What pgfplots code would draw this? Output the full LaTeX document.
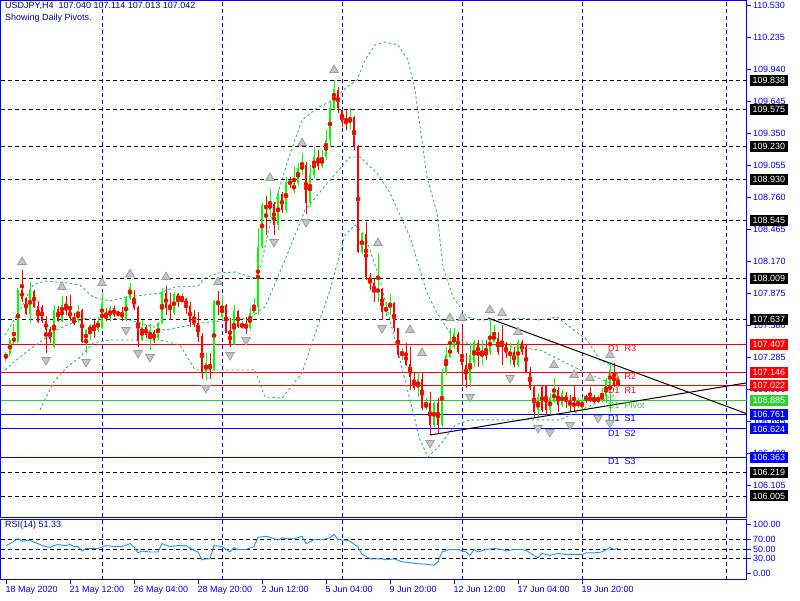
\documentclass[border=0pt]{standalone}
\usepackage{pgfplots}
\pgfplotsset{compat=1.18}
\usepackage{pgfplotstable}
\usepackage{fontspec}
\setmainfont{Liberation Sans}
\definecolor{mtgreen}{RGB}{0,255,0}
\definecolor{mtred}{RGB}{255,0,0}
\definecolor{mtblue}{RGB}{0,0,255}
\definecolor{mtnavy}{RGB}{0,0,128}
\definecolor{bandgreen}{RGB}{60,179,113}
\definecolor{rsiblue}{RGB}{30,144,255}
\definecolor{pivgreen}{RGB}{50,205,50}
\newcommand{\tf}{\fontsize{9}{10}\selectfont}

\pgfplotstableread{
i o h l c
0 107.279 107.335 107.251 107.316
1 107.316 107.463 107.298 107.445
2 107.426 107.592 107.408 107.472
3 107.426 107.925 107.417 107.906
4 107.906 108.091 107.795 107.823
5 107.832 107.841 107.675 107.685
6 107.685 107.980 107.601 107.906
7 107.897 107.906 107.740 107.749
8 107.759 107.805 107.601 107.610
9 107.749 107.768 107.601 107.620
10 107.620 107.666 107.325 107.537
11 107.546 107.565 107.417 107.454
12 107.380 107.768 107.371 107.722
13 107.731 107.759 107.610 107.620
14 107.620 107.851 107.610 107.768
15 107.768 107.851 107.675 107.712
16 107.722 107.860 107.620 107.648
17 107.648 107.694 107.583 107.592
18 107.629 107.768 107.610 107.712
19 107.722 107.731 107.417 107.426
20 107.426 107.546 107.325 107.537
21 107.519 107.592 107.445 107.583
22 107.583 107.629 107.463 107.555
23 107.537 107.657 107.519 107.620
24 107.555 107.888 107.546 107.786
25 107.675 107.740 107.620 107.648
26 107.657 107.759 107.620 107.740
27 107.740 107.759 107.657 107.675
28 107.675 107.722 107.657 107.703
29 107.703 107.749 107.620 107.648
30 107.629 107.851 107.620 107.832
31 107.832 107.971 107.814 107.934
32 107.841 107.906 107.722 107.740
33 107.749 107.759 107.380 107.435
34 107.445 107.629 107.435 107.565
35 107.565 107.583 107.463 107.491
36 107.463 107.592 107.353 107.537
37 107.519 107.537 107.417 107.445
38 107.463 107.610 107.445 107.601
39 107.601 107.925 107.592 107.888
40 107.879 107.943 107.675 107.740
41 107.749 107.879 107.629 107.731
42 107.694 107.888 107.675 107.869
43 107.869 107.879 107.749 107.805
44 107.805 107.879 107.786 107.823
45 107.823 107.832 107.685 107.759
46 107.759 107.795 107.565 107.610
47 107.620 107.722 107.565 107.610
48 107.601 107.703 107.426 107.472
49 107.482 107.509 107.085 107.140
50 107.149 107.325 107.076 107.232
51 107.223 107.325 107.085 107.168
52 107.168 107.814 107.159 107.805
53 107.805 107.897 107.675 107.777
54 107.657 107.860 107.629 107.768
55 107.768 107.777 107.509 107.509
56 107.528 107.648 107.380 107.399
57 107.408 107.768 107.399 107.712
58 107.712 107.722 107.555 107.565
59 107.565 107.620 107.546 107.592
60 107.583 107.657 107.500 107.555
61 107.555 107.749 107.546 107.694
62 107.694 107.832 107.675 107.768
63 107.749 108.479 107.675 108.303
64 108.303 108.709 108.294 108.691
65 108.691 108.774 108.414 108.654
66 108.645 108.839 108.580 108.709
67 108.700 108.718 108.414 108.506
68 108.506 108.829 108.460 108.792
69 108.792 108.811 108.617 108.645
70 108.645 108.949 108.617 108.903
71 108.912 108.949 108.848 108.885
72 108.820 109.042 108.802 108.894
73 108.894 109.079 108.876 109.032
74 109.014 109.171 108.968 109.060
75 109.060 109.088 108.608 108.709
76 108.709 109.060 108.672 108.968
77 108.968 109.226 108.940 109.134
78 109.134 109.199 109.014 109.051
79 109.051 109.199 109.032 109.134
80 109.134 109.383 109.106 109.291
81 109.291 109.660 109.226 109.586
82 109.586 109.845 109.568 109.762
83 109.752 109.780 109.540 109.586
84 109.568 109.577 109.411 109.457
85 109.466 109.568 109.383 109.448
86 109.448 109.586 109.383 109.494
87 109.503 109.512 109.199 109.226
88 109.236 109.245 108.248 108.257
89 108.257 108.442 108.239 108.432
90 108.423 108.534 107.999 108.026
91 108.026 108.063 107.906 107.971
92 107.971 108.008 107.795 107.879
93 107.879 108.248 107.795 107.925
94 107.916 107.925 107.629 107.703
95 107.703 107.795 107.666 107.749
96 107.740 107.869 107.675 107.786
97 107.786 107.795 107.519 107.555
98 107.555 107.555 107.279 107.306
99 107.306 107.371 107.260 107.343
100 107.334 107.417 107.205 107.214
101 107.223 107.380 106.983 107.103
102 107.085 107.140 106.983 107.002
103 107.002 107.140 106.919 107.085
104 107.085 107.140 106.799 106.817
105 106.817 106.909 106.799 106.863
106 106.863 106.965 106.568 106.660
107 106.660 106.872 106.642 106.863
108 106.863 106.909 106.577 106.660
109 106.660 107.177 106.642 107.140
110 107.140 107.380 107.122 107.306
111 107.288 107.555 107.279 107.389
112 107.380 107.555 107.362 107.509
113 107.500 107.519 107.316 107.334
114 107.306 107.565 107.029 107.214
115 107.214 107.325 107.002 107.076
116 107.076 107.417 107.011 107.306
117 107.242 107.445 107.195 107.426
118 107.417 107.445 107.195 107.306
119 107.288 107.445 107.214 107.334
120 107.334 107.445 107.260 107.306
121 107.325 107.629 107.306 107.491
122 107.426 107.583 107.417 107.509
123 107.463 107.519 107.306 107.334
124 107.445 107.583 107.214 107.399
125 107.399 107.426 107.279 107.325
126 107.306 107.417 107.214 107.334
127 107.334 107.380 107.195 107.214
128 107.214 107.445 107.195 107.426
129 107.426 107.445 107.306 107.334
130 107.380 107.399 107.140 107.149
131 107.149 107.195 106.983 107.002
132 107.011 107.029 106.734 106.780
133 106.799 106.956 106.725 106.919
134 107.011 107.029 106.780 106.799
135 107.020 107.029 106.752 106.799
136 106.799 106.956 106.752 106.919
137 106.872 107.094 106.863 106.983
138 106.983 107.011 106.780 106.845
139 106.845 106.983 106.826 106.956
140 106.937 106.965 106.817 106.872
141 106.891 106.937 106.780 106.836
142 106.872 107.020 106.780 106.826
143 106.836 106.909 106.817 106.872
144 106.817 106.919 106.771 106.891
145 106.919 106.937 106.863 106.900
146 106.909 107.011 106.872 106.891
147 106.909 106.937 106.863 106.872
148 106.872 106.937 106.863 106.919
149 106.891 107.002 106.872 106.937
150 106.919 107.094 106.863 107.076
151 107.029 107.232 106.780 107.168
152 107.140 107.232 107.011 107.029
153 107.040 107.114 107.013 107.042
}\candles

\begin{document}
\begin{tikzpicture}
\useasboundingbox (0,0) rectangle (800pt,-600pt);
% ---------------- main price panel ----------------
\begin{axis}[
  at={(1pt,0pt)}, anchor=north west, scale only axis,
  width=745.5pt, height=517pt,
  xmin=-1.25, xmax=185.125, ymin=105.811, ymax=110.583,
  axis line style={mtblue, line width=1pt},
  xtick={24,54,84,114,144,180}, xticklabels={},
  xmajorgrids, x grid style={mtblue, dash pattern=on 4pt off 3pt, line width=0.8pt},
  xtick style={draw=none},
  ytick={110.530,110.235,109.940,109.645,109.350,109.055,108.760,108.465,108.170,107.875,107.580,107.285,106.990,106.695,106.400,106.105},
  ytick pos=right, yticklabel pos=right, scaled y ticks=false,
  tick align=outside, major tick length=4pt,
  ytick style={mtblue, line width=0.8pt},
  y tick label style={text=mtblue, font=\tf, xshift=-1pt,
    /pgf/number format/.cd, fixed, fixed zerofill, precision=3, assume math mode=true},
]
% dashed price levels
\pgfplotsinvokeforeach{109.838,109.575,109.230,108.930,108.545,108.009,107.637,106.219,106.005}{
  \addplot[black, line width=0.9pt, dash pattern=on 4pt off 3pt, forget plot] coordinates {(-1.25,#1) (185.125,#1)};
}
% daily pivots
\addplot[mtred, line width=1pt] coordinates {(-1.25,107.407) (185.125,107.407)};
\addplot[mtred, line width=1pt] coordinates {(-1.25,107.146) (185.125,107.146)};
\addplot[mtred, line width=1pt] coordinates {(-1.25,107.022) (185.125,107.022)};
\addplot[pivgreen, line width=1pt] coordinates {(-1.25,106.885) (185.125,106.885)};
\addplot[mtblue, line width=1pt] coordinates {(-1.25,106.761) (185.125,106.761)};
\addplot[mtblue, line width=1pt] coordinates {(-1.25,106.624) (185.125,106.624)};
\addplot[mtblue, line width=1pt] coordinates {(-1.25,106.363) (185.125,106.363)};
% Bollinger bands
\addplot[bandgreen, line width=0.9pt, dash pattern=on 2.5pt off 2.5pt] coordinates {
(-0.25,107.491) (3.5,107.722) (6.75,107.952) (9.75,107.989) (15.25,107.971) (18.5,107.952) (21.75,107.841) (26,107.805) (30.25,107.841) (38.5,107.878) (42.25,107.934) (48,107.943) (49.75,108.017) (53,108.063) (57.25,108.072) (62.25,108.017) (63.5,108.091) (65.5,108.432) (68,108.802) (70.5,109.106) (74,109.475) (77.75,109.586) (81.75,109.660) (85.25,109.780) (87.75,109.845) (89.75,110.029) (92.25,110.168) (94.75,110.195) (98,110.168) (100.5,110.029) (102.25,109.752) (105.25,108.949) (107.75,108.617) (109.25,108.119) (111.75,107.841) (115.25,107.657) (118.5,107.629) (123.5,107.629) (128.5,107.648) (133.5,107.629) (137.75,107.657) (141,107.565) (145.25,107.445) (148.5,107.260) (152.25,107.195)};
\addplot[bandgreen, line width=0.9pt, dash pattern=on 2.5pt off 2.5pt] coordinates {
(-0.25,107.168) (3.5,107.288) (6.75,107.380) (9.25,107.445) (12.75,107.537) (15.25,107.583) (20.25,107.648) (26,107.648) (31,107.629) (39.75,107.537) (48.5,107.600) (61,107.648) (64.75,107.749) (69.75,108.183) (74.75,108.645) (81,108.922) (86,109.134) (88.5,109.134) (92.75,108.986) (96,108.802) (101,108.395) (105.25,107.878) (107.75,107.694) (111,107.509) (116,107.399) (123.5,107.399) (133.5,107.353) (143.5,107.168) (152.25,107.029)};
\addplot[bandgreen, line width=0.9pt, dash pattern=on 2.5pt off 2.5pt] coordinates {
(8.5,106.799) (11.75,107.048) (15.25,107.195) (18.5,107.288) (21.75,107.417) (26,107.445) (38.5,107.445) (43.5,107.399) (47.25,107.168) (62.25,107.168) (64.75,106.919) (69,106.909) (74,107.140) (76.5,107.417) (81,107.906) (84.75,108.414) (87.25,108.506) (89.75,108.414) (93.5,107.999) (97.25,107.445) (101,106.891) (103.5,106.522) (105.5,106.365) (108.5,106.476) (112.25,106.660) (116,106.707) (123.5,106.707) (131,106.707) (138.5,106.707) (145.25,106.826) (152.25,106.937)};
% candles: wicks and bodies, green (up) and red (down)
\addplot[forget plot, only marks, mark=none, mtgreen, error bars/.cd, y dir=both, y explicit, error mark=none,
  error bar style={draw=mtgreen, line width=1pt}]
  table[x=i, y expr={(\thisrow{h}+\thisrow{l})/2}, y error expr={\thisrow{c}>=\thisrow{o} ? (\thisrow{h}-\thisrow{l})/2 : 0}] {\candles};
\addplot[forget plot, only marks, mark=none, mtred, error bars/.cd, y dir=both, y explicit, error mark=none,
  error bar style={draw=mtred, line width=1pt}]
  table[x=i, y expr={(\thisrow{h}+\thisrow{l})/2}, y error expr={\thisrow{c}<\thisrow{o} ? (\thisrow{h}-\thisrow{l})/2 : 0}] {\candles};
\addplot[forget plot, only marks, mark=none, mtgreen, error bars/.cd, y dir=both, y explicit, error mark=none,
  error bar style={draw=mtgreen, line width=2.8pt}]
  table[x=i, y expr={(\thisrow{o}+\thisrow{c})/2}, y error expr={\thisrow{c}>=\thisrow{o} ? (\thisrow{c}-\thisrow{o})/2 : 0}] {\candles};
\addplot[forget plot, only marks, mark=none, mtred, error bars/.cd, y dir=both, y explicit, error mark=none,
  error bar style={draw=mtred, line width=2.8pt}]
  table[x=i, y expr={(\thisrow{o}+\thisrow{c})/2}, y error expr={\thisrow{c}<\thisrow{o} ? (\thisrow{o}-\thisrow{c})/2 : 0}] {\candles};
% trend lines
\addplot[black, line width=1pt] coordinates {(120.5,107.648) (185.125,106.765)};
\addplot[black, line width=1pt] coordinates {(106,106.568) (185.125,107.049)};
% fractals
\addplot[only marks, mark=triangle*, mark size=5pt, mark options={fill=gray!45, draw=gray!80, line width=0.7pt}] coordinates {
(4,108.165) (14,107.934) (24,107.970) (31,108.050) (40,108.026) (53,107.980) (66,108.940) (74,109.263) (82,109.937) (93,108.340) (101,107.537) (104,107.325) (111,107.648) (114,107.648) (121,107.722) (124,107.694) (128,107.519) (137,107.214) (142,107.122) (146,107.094) (151,107.306)};
\addplot[only marks, mark=triangle*, mark size=5pt, mark options={rotate=180, fill=gray!45, draw=gray!80, line width=0.7pt}] coordinates {
(10,107.260) (20,107.242) (30,107.537) (33,107.325) (36,107.288) (50,107.002) (56,107.306) (60,107.445) (67,108.349) (75,108.534) (94,107.555) (106,106.494) (116,106.919) (126,107.094) (133,106.633) (136,106.596) (141,106.660) (148,106.725) (151,106.679)};
% pivot labels
\begin{scope}[every node/.style={anchor=north west, inner sep=1pt, font=\tf}]
\node[text=mtred] at (axis cs:150.25,107.407) {D1\ \ R3};
\node[text=mtred] at (axis cs:150.25,107.146) {D1\ \ R2};
\node[text=mtred] at (axis cs:150.25,107.022) {D1\ \ R1};
\node[text=pivgreen] at (axis cs:150.25,106.885) {D1\ \ Pivot};
\node[text=mtblue] at (axis cs:150.25,106.761) {D1\ \ S1};
\node[text=mtblue] at (axis cs:150.25,106.624) {D1\ \ S2};
\node[text=mtblue] at (axis cs:150.25,106.363) {D1\ \ S3};
\end{scope}
\end{axis}
% ---------------- overlay: price boxes and header ----------------
\begin{axis}[
  at={(1pt,0pt)}, anchor=north west, scale only axis,
  width=745.5pt, height=517pt,
  xmin=-1.25, xmax=185.125, ymin=105.811, ymax=110.583,
  hide axis, clip=false,
]
\begin{scope}[every node/.style={anchor=west, xshift=3.5pt, inner xsep=2.5pt, inner ysep=0pt, minimum height=11pt, font=\tf, text=white}]
\node[fill=black] at (axis cs:185.125,109.838) {109.838};
\node[fill=black] at (axis cs:185.125,109.575) {109.575};
\node[fill=black] at (axis cs:185.125,109.230) {109.230};
\node[fill=black] at (axis cs:185.125,108.930) {108.930};
\node[fill=black] at (axis cs:185.125,108.545) {108.545};
\node[fill=black] at (axis cs:185.125,108.009) {108.009};
\node[fill=black] at (axis cs:185.125,107.637) {107.637};
\node[fill=mtred] at (axis cs:185.125,107.407) {107.407};
\node[fill=mtred] at (axis cs:185.125,107.146) {107.146};
\node[fill=mtred] at (axis cs:185.125,107.022) {107.022};
\node[fill=pivgreen] at (axis cs:185.125,106.885) {106.885};
\node[fill=mtblue] at (axis cs:185.125,106.761) {106.761};
\node[fill=mtblue] at (axis cs:185.125,106.624) {106.624};
\node[fill=mtblue] at (axis cs:185.125,106.363) {106.363};
\node[fill=black] at (axis cs:185.125,106.219) {106.219};
\node[fill=black] at (axis cs:185.125,106.005) {106.005};
\end{scope}
\end{axis}
\node[anchor=north west, inner sep=0pt, text=mtnavy, font=\tf] at (5pt,-2pt) {USDJPY,H4\ \ 107.040 107.114 107.013 107.042};
\node[anchor=north west, inner sep=0pt, text=mtnavy, font=\tf] at (5pt,-14pt) {Showing Daily Pivots.};
% ---------------- RSI panel ----------------
\begin{axis}[
  at={(1pt,-519.5pt)}, anchor=north west, scale only axis,
  width=745.5pt, height=60pt,
  xmin=-1.25, xmax=185.125, ymin=-12.2, ymax=110.2,
  axis line style={mtblue, line width=1pt},
  xtick={0,16,32,48,64,80,96,112,128,144},
  xticklabels={18 May 2020,21 May 12:00,26 May 04:00,28 May 20:00,2 Jun 12:00,5 Jun 04:00,9 Jun 20:00,12 Jun 12:00,17 Jun 04:00,19 Jun 20:00},
  xtick pos=bottom,
  x tick label style={anchor=north west, xshift=-4pt, yshift=1pt, text=mtblue, font=\tf},
  extra x ticks={24,54,84,114,144,180}, extra x tick labels={},
  extra x tick style={grid=major, major tick length=0pt},
  x grid style={mtblue, dash pattern=on 4pt off 3pt, line width=0.8pt},
  ytick={0,30,50,70,100}, ytick pos=right, yticklabel pos=right,
  tick align=outside, major tick length=4pt,
  tick style={mtblue, line width=0.8pt},
  y tick label style={text=mtblue, font=\tf, xshift=-1pt,
    /pgf/number format/.cd, fixed, fixed zerofill, precision=2, assume math mode=true},
]
\pgfplotsinvokeforeach{30,50,70}{
  \addplot[black, line width=0.9pt, dash pattern=on 4pt off 3pt, forget plot] coordinates {(-1.25,#1) (185.125,#1)};
}
\addplot[rsiblue, line width=0.9pt] coordinates {
(0,57) (1,61) (3,71) (4,66) (6,68) (7,64) (8,61) (9,57) (11,53) (12,57) (13,59) (15,57) (16,59) (17,55) (18,55) (19,46) (20,51) (22,51) (23,51) (25,57) (27,55) (29,55) (31,61) (32,54) (33,42) (34,46) (36,44) (38,44) (39,61) (41,55) (43,57) (45,57) (47,47) (48,44) (49,28) (50,30) (51,30) (52,57) (54,55) (56,44) (57,53) (58,49) (60,49) (62,55) (63,74) (65,76) (66,74) (68,68) (69,73) (70,71) (72,71) (74,76) (75,61) (77,69) (79,69) (81,73) (82,80) (83,69) (85,68) (86,66) (88,54) (89,39) (90,35) (91,30) (94,30) (95,28) (97,30) (99,24) (101,22) (103,20) (105,19) (107,17) (108,24) (109,44) (111,49) (113,49) (115,44) (116,37) (117,49) (118,44) (120,49) (122,51) (124,49) (125,46) (127,49) (129,49) (130,47) (133,32) (134,41) (136,37) (138,41) (140,39) (142,39) (144,39) (145,42) (147,42) (149,44) (151,53) (152,49) (153,51.33)};
\end{axis}
\node[anchor=north west, inner sep=0pt, text=mtnavy, font=\tf] at (5pt,-521pt) {RSI(14) 51.33};
\end{tikzpicture}
\end{document}
